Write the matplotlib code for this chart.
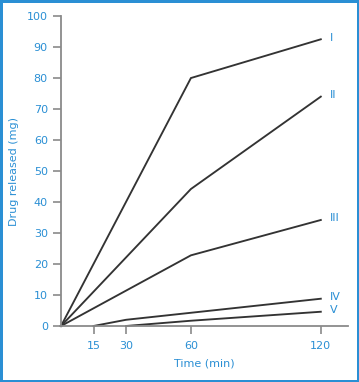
import matplotlib.pyplot as plt

# release curves (time in min, drug released in mg)
curve_names = ["I", "II", "III", "IV", "V"]
curve_t = [
    [0, 60, 120],
    [0, 60, 120],
    [0, 60, 120],
    [15, 30, 120],
    [30, 60, 120],
]
curve_y = [
    [0, 80.0, 92.5],
    [0, 44.2, 74.0],
    [0, 22.8, 34.2],
    [0, 2.0, 8.8],
    [0, 1.7, 4.6],
]
x_ticks = [15, 30, 60, 120]
y_ticks = list(range(0, 101, 10))

blue = "#2a8fd4"
grey = "#8a8a8a"

fig = plt.figure(figsize=(3.59, 3.82), dpi=100)
fig.patch.set_edgecolor(blue)
fig.patch.set_linewidth(2.5)
ax = fig.add_axes([0.170, 0.1466, 0.799, 0.8114])

for name, t, y in zip(curve_names, curve_t, curve_y):
    ax.plot(t, y, color="#333333", lw=1.35, clip_on=False, solid_joinstyle="miter")
    ax.text(t[-1] + 4, y[-1] + 0.5, name, color=blue, fontsize=8, va="center", ha="left")

ax.set_xlim(0, 132.5)
ax.set_ylim(0, 100)
ax.set_xticks(x_ticks)
ax.set_yticks(y_ticks)
for s in ["top", "right"]:
    ax.spines[s].set_visible(False)
for s in ["left", "bottom"]:
    ax.spines[s].set_color(grey)
    ax.spines[s].set_linewidth(1.3)
ax.tick_params(colors=grey, labelcolor=blue, labelsize=8, length=6, width=1.2)
ax.tick_params(axis="x", pad=5)
ax.set_xlabel("Time (min)", color=blue, fontsize=8, labelpad=5)
ax.set_ylabel("Drug released (mg)", color=blue, fontsize=8, labelpad=6)

fig.savefig("out.png", dpi=100, edgecolor=fig.get_edgecolor())
